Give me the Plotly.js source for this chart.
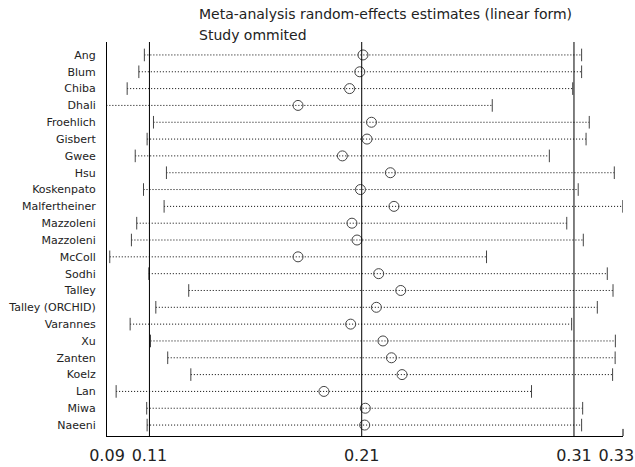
<!DOCTYPE html>
<html>
<head>
<meta charset="utf-8">
<script src="https://cdn.plot.ly/plotly-3.0.1.min.js"></script>
<style>
  html, body { margin: 0; padding: 0; background: #fff; }
  #chart { width: 635px; height: 467px; }
</style>
</head>
<body>
<div id="chart"></div>
<script>
var studies = ["Ang", "Blum", "Chiba", "Dhali", "Froehlich", "Gisbert", "Gwee", "Hsu", "Koskenpato",
    "Malfertheiner", "Mazzoleni", "Mazzoleni", "McColl", "Sodhi", "Talley", "Talley (ORCHID)",
    "Varannes", "Xu", "Zanten", "Koelz", "Lan", "Miwa", "Naeeni"];
var estimate = [0.2106, 0.2091, 0.2043, 0.1800, 0.2146, 0.2125, 0.2009, 0.2235, 0.2094,
    0.2252, 0.2054, 0.2078, 0.1800, 0.2180, 0.2284, 0.2169,
    0.2048, 0.2200, 0.2240, 0.2290, 0.1922, 0.2117, 0.2114];
var lower = [0.1076, 0.1050, 0.0995, 0.0897, 0.1119, 0.1089, 0.1033, 0.1180, 0.1072,
    0.1169, 0.1040, 0.1015, 0.0913, 0.1097, 0.1285, 0.1130,
    0.1009, 0.1105, 0.1186, 0.1295, 0.0943, 0.1087, 0.1089];
var upper = [0.3136, 0.3136, 0.3094, 0.2715, 0.3172, 0.3157, 0.2984, 0.3290, 0.3120,
    0.3330, 0.3066, 0.3144, 0.2688, 0.3257, 0.3284, 0.3210,
    0.3089, 0.3295, 0.3294, 0.3282, 0.2900, 0.3141, 0.3136];
var refLines = [0.11, 0.21, 0.31];
var tickVals = [0.09, 0.11, 0.21, 0.31, 0.33];
var titleLines = ["Meta-analysis random-effects estimates (linear form)", "Study ommited"];

var rows = studies.map(function(s, i) { return i; });

// dotted CI segments
var segX = [], segY = [];
rows.forEach(function(i) {
    segX.push(lower[i], upper[i], null);
    segY.push(i, i, null);
});

var ciLines = {
    x: segX, y: segY,
    mode: 'lines', type: 'scatter',
    line: { color: '#000', width: 1, dash: '1px,2px' },
    hoverinfo: 'skip'
};

var caps = {
    x: lower.concat(upper),
    y: rows.concat(rows),
    mode: 'markers', type: 'scatter',
    marker: { symbol: 'line-ns', size: 9, line: { color: '#444', width: 1 } }
};

var points = {
    x: estimate, y: rows,
    mode: 'markers', type: 'scatter',
    marker: { symbol: 'circle-open', size: 10, color: '#444', line: { width: 1 } }
};

var shapes = refLines.map(function(v) {
    return { type: 'line', xref: 'x', yref: 'paper', x0: v, x1: v, y0: 0, y1: 1,
        line: { color: '#000', width: 1 } };
});
shapes.push({ type: 'line', xref: 'paper', yref: 'paper', x0: 1, x1: 1, y0: 0, y1: 0.018,
    line: { color: '#000', width: 1 } });

var annotations = [
    { text: titleLines[0], xref: 'paper', yref: 'paper', x: 0.1744, y: 1.0711,
      xanchor: 'left', yanchor: 'middle', showarrow: false, font: { size: 14, color: '#222' } },
    { text: titleLines[1], xref: 'paper', yref: 'paper', x: 0.1744, y: 1.0178,
      xanchor: 'left', yanchor: 'middle', showarrow: false, font: { size: 14, color: '#222' } }
];

var layout = {
    width: 635, height: 467,
    margin: { l: 107, r: 12, t: 42, b: 31 },
    paper_bgcolor: '#fff', plot_bgcolor: '#fff',
    showlegend: false,
    font: { family: 'DejaVu Sans', color: '#222' },
    xaxis: {
        range: [0.09, 0.3331],
        tickvals: tickVals,
        ticktext: tickVals.map(function(v) { return v.toFixed(2); }),
        showgrid: false, zeroline: false,
        showline: true, linecolor: '#000', linewidth: 1,
        ticks: '', ticklabelstandoff: 5,
        tickfont: { size: 16, color: '#222' }
    },
    yaxis: {
        range: [22.65, -0.77],
        tickvals: rows, ticktext: studies,
        showgrid: false, zeroline: false,
        showline: true, linecolor: '#000', linewidth: 1,
        ticks: '', ticklabelstandoff: 8,
        tickfont: { size: 11, color: '#222' }
    },
    shapes: shapes,
    annotations: annotations
};

Plotly.newPlot('chart', [ciLines, caps, points], layout, { displayModeBar: false });
</script>
</body>
</html>
